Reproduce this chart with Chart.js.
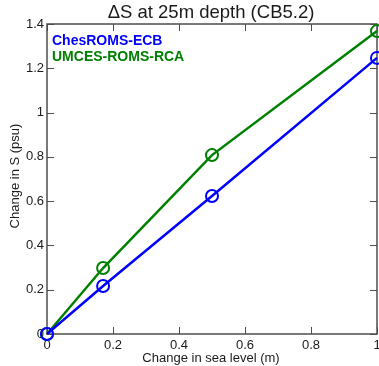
<!DOCTYPE html>
<html>
<head>
<meta charset="utf-8">
<script src="https://cdn.jsdelivr.net/npm/chart.js@4"></script>
<style>
  html, body { margin: 0; padding: 0; background: #fff; }
  #chart { display: block; }
</style>
</head>
<body>
<canvas id="chart" width="379" height="366"></canvas>
<script>
// data
const seaLevel = [0, 0.17, 0.5, 1.0];
const chesRoms = [0, 0.217, 0.623, 1.247];
const umcesRoms = [0, 0.298, 0.808, 1.368];
const xTicks = [0, 0.2, 0.4, 0.6, 0.8, 1];
const yTicks = [0, 0.2, 0.4, 0.6, 0.8, 1, 1.2, 1.4];

const FONT = '"Liberation Sans", Arial, Helvetica, sans-serif';
const BLUE = '#0000ff';
const GREEN = '#008000';

function toPoints(ys) {
    return seaLevel.map((x, i) => ({ x: x, y: ys[i] }));
}

// box, inward ticks, title, legend text and axis titles
const frame = {
    id: 'frame',
    beforeDatasetsDraw(chart) {
        const ctx = chart.ctx;
        const a = chart.chartArea;
        const sx = chart.scales.x, sy = chart.scales.y;
        const len = 7;
        ctx.save();
        ctx.strokeStyle = '#4d4d4d';
        ctx.lineWidth = 1;
        ctx.beginPath();
        xTicks.forEach(v => {
            const px = Math.round(sx.getPixelForValue(v)) + 0.5;
            ctx.moveTo(px, a.bottom); ctx.lineTo(px, a.bottom - len);
            ctx.moveTo(px, a.top); ctx.lineTo(px, a.top + len);
        });
        yTicks.forEach(v => {
            const py = Math.round(sy.getPixelForValue(v)) + 0.5;
            ctx.moveTo(a.left, py); ctx.lineTo(a.left + len, py);
            ctx.moveTo(a.right, py); ctx.lineTo(a.right - len, py);
        });
        ctx.stroke();
        ctx.lineWidth = 1.5;
        ctx.strokeRect(a.left, a.top, a.right - a.left, a.bottom - a.top);
        ctx.restore();
    },
    afterDraw(chart) {
        const ctx = chart.ctx;
        ctx.save();
        ctx.fillStyle = '#1a1a1a';
        ctx.textAlign = 'center';
        ctx.textBaseline = 'middle';
        ctx.font = '18.5px ' + FONT;
        ctx.fillText('\u0394S at 25m depth (CB5.2)', 211, 13);

        ctx.font = '13px ' + FONT;
        ctx.fillText('Change in sea level (m)', 211, 358);
        ctx.save();
        ctx.translate(15, 176);
        ctx.rotate(-Math.PI / 2);
        ctx.fillText('Change in S (psu)', 0, 0);
        ctx.restore();

        ctx.textAlign = 'left';
        ctx.font = 'bold 14px ' + FONT;
        ctx.fillStyle = BLUE;
        ctx.fillText(chart.data.datasets[0].label, 52, 41);
        ctx.fillStyle = GREEN;
        ctx.fillText(chart.data.datasets[1].label, 52, 57);
        ctx.restore();
    }
};

const lineStyle = {
    showLine: true,
    borderWidth: 2.5,
    pointRadius: 6,
    pointBorderWidth: 2,
    pointBackgroundColor: 'rgba(0,0,0,0)',
    clip: false
};

new Chart(document.getElementById('chart'), {
    type: 'scatter',
    data: {
        datasets: [
            Object.assign({
                label: 'ChesROMS-ECB',
                data: toPoints(chesRoms),
                borderColor: BLUE,
                pointBorderColor: BLUE
            }, lineStyle),
            Object.assign({
                label: 'UMCES-ROMS-RCA',
                data: toPoints(umcesRoms),
                borderColor: GREEN,
                pointBorderColor: GREEN
            }, lineStyle)
        ]
    },
    options: {
        responsive: false,
        animation: false,
        layout: { autoPadding: false, padding: { top: 24, right: 2, left: 0, bottom: 0 } },
        plugins: {
            legend: { display: false },
            title: { display: false },
            tooltip: { enabled: false }
        },
        scales: {
            x: {
                type: 'linear',
                min: 0, max: 1,
                afterBuildTicks: s => { s.ticks = xTicks.map(v => ({ value: v })); },
                afterFit: s => { s.height = 32; s.paddingLeft = 0; s.paddingRight = 0; },
                grid: { display: false, drawTicks: false },
                border: { display: false },
                ticks: {
                    padding: 4,
                    maxRotation: 0,
                    color: '#1a1a1a',
                    font: { family: FONT, size: 13 },
                    callback: v => String(+v.toFixed(1))
                }
            },
            y: {
                type: 'linear',
                min: 0, max: 1.4,
                afterBuildTicks: s => { s.ticks = yTicks.map(v => ({ value: v })); },
                afterFit: s => { s.width = 47; s.paddingTop = 0; s.paddingBottom = 0; },
                grid: { display: false, drawTicks: false },
                border: { display: false },
                ticks: {
                    padding: 3,
                    color: '#1a1a1a',
                    font: { family: FONT, size: 13 },
                    callback: v => String(+v.toFixed(1))
                }
            }
        }
    },
    plugins: [frame]
});
</script>
</body>
</html>
